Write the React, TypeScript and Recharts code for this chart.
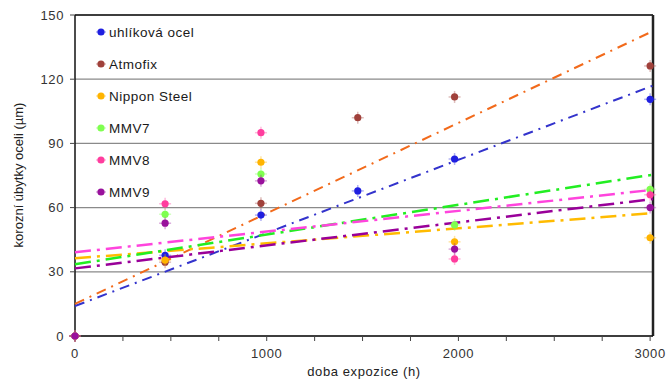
import React from "react";
import {
  ComposedChart,
  Scatter,
  XAxis,
  YAxis,
  CartesianGrid,
  ReferenceLine,
} from "recharts";

// measurement times (h)
const TIMES = [0, 470, 970, 1475, 1980, 3000];

const NAMES = ["uhlíková ocel", "Atmofix", "Nippon Steel", "MMV7", "MMV8", "MMV9"];

// corrosion loss (µm) per steel, null = not measured
const UHLIKOVA = [0, 37.7, 56.5, 67.8, 82.7, 110.6];
const ATMOFIX = [0, 34.5, 62, 102, 111.7, 126.2];
const NIPPON = [0, 35.5, 81.2, null, 44, 45.9];
const MMV7 = [0, 56.9, 75.7, null, 51.9, 68.5];
const MMV8 = [0, 61.8, 95, null, 36, 66];
const MMV9 = [0, 52.7, 72.5, null, 40.6, 60];

// linear trend lines: value at start and end of x range
const TREND_T = [0, 3015];
const TREND_UHLIKOVA = [14, 117];
const TREND_ATMOFIX = [15, 142.5];
const TREND_NIPPON = [36.3, 57.4];
const TREND_MMV7 = [33.5, 75.4];
const TREND_MMV8 = [39.1, 68.3];
const TREND_MMV9 = [31.6, 64];

const Y_TICKS = [0, 30, 60, 90, 120, 150];
const X_TICKS = [0, 250, 500, 750, 1000, 1250, 1500, 1750, 2000, 2250, 2500, 2750, 3000];

const POINT_COLORS = ["#1f1fe0", "#a0413b", "#ffb400", "#7fff50", "#ff3d9e", "#99119c"];
const TREND_COLORS = ["#3333cc", "#f26a1b", "#ffbb00", "#22ee22", "#ff44dd", "#990099"];
const TREND_DASH = ["10 6 2 6", "10 6 2 6", "16 6 3 6", "16 6 3 6", "16 6 3 6", "16 6 3 6"];
const TREND_WIDTH = [2, 2, 2.5, 2.5, 2.5, 2.5];

const VALUES = [UHLIKOVA, ATMOFIX, NIPPON, MMV7, MMV8, MMV9];
const TRENDS = [TREND_UHLIKOVA, TREND_ATMOFIX, TREND_NIPPON, TREND_MMV7, TREND_MMV8, TREND_MMV9];

const FONT = "'Liberation Sans', Arial, sans-serif";
const TEXT_STYLE = { fontSize: 13, fill: "#333", fontFamily: FONT, letterSpacing: 0.6 };

function toPoints(values: (number | null)[]) {
  return TIMES.map((t, i) => ({ t, v: values[i] })).filter((d) => d.v !== null);
}

function toTrend(values: number[]) {
  return TREND_T.map((t, i) => ({ t, v: values[i] }));
}

const PointShape = (props: any) => {
  const { cx, cy, fill } = props;
  if (cx == null || cy == null) return <g />;
  return (
    <g>
      <line x1={cx - 6} x2={cx + 6} y1={cy} y2={cy} stroke={fill} strokeOpacity={0.35} strokeWidth={1.5} />
      <line x1={cx} x2={cx} y1={cy - 6} y2={cy + 6} stroke={fill} strokeOpacity={0.35} strokeWidth={1.5} />
      <circle cx={cx} cy={cy} r={3.6} fill={fill} />
    </g>
  );
};

const NoShape = () => <g />;

// legend sits inside the plot, top-left
const LegendBox = () => (
  <div
    style={{
      position: "absolute",
      left: 95,
      top: 16,
      fontFamily: FONT,
      fontSize: 13.5,
      letterSpacing: 0.5,
      color: "#1a1a1a",
    }}
  >
    {NAMES.map((name, i) => (
      <div key={name} style={{ height: 32, display: "flex", alignItems: "center" }}>
        <svg width={12} height={10} style={{ marginRight: 2 }}>
          <line x1={1} x2={11} y1={5} y2={5} stroke={POINT_COLORS[i]} strokeOpacity={0.35} strokeWidth={1.5} />
          <circle cx={6} cy={5} r={3.6} fill={POINT_COLORS[i]} />
        </svg>
        <span>{name}</span>
      </div>
    ))}
  </div>
);

const fmtX = (v: number) => (v % 1000 === 0 ? String(v) : "");

export default function App() {
  return (
    <div style={{ position: "absolute", left: 0, top: 0, width: 667, height: 379, background: "#fff" }}>
      <ComposedChart width={667} height={379} margin={{ top: 15, right: 14, bottom: 0, left: 0 }}>
        <CartesianGrid vertical={false} stroke="#8a8a8a" strokeWidth={1.2} />
        <XAxis
          type="number"
          dataKey="t"
          domain={[0, 3015]}
          ticks={X_TICKS}
          tickFormatter={fmtX}
          interval={0}
          height={43}
          axisLine={{ stroke: "#111", strokeWidth: 1.5 }}
          tickLine={{ stroke: "#444" }}
          tickSize={5}
          tickMargin={8}
          tick={TEXT_STYLE}
          label={{
            value: "doba expozice (h)",
            position: "insideBottom",
            offset: 3,
            style: { ...TEXT_STYLE, fill: "#222" },
          }}
        />
        <YAxis
          type="number"
          dataKey="v"
          domain={[0, 150]}
          ticks={Y_TICKS}
          interval={0}
          width={75}
          axisLine={{ stroke: "#111", strokeWidth: 1.5 }}
          tickLine={{ stroke: "#444" }}
          tickSize={5}
          tickMargin={6}
          tick={TEXT_STYLE}
          label={{
            content: () => (
              <text
                x={18}
                y={175}
                transform="rotate(-90 18 175)"
                textAnchor="middle"
                dominantBaseline="central"
                style={{ fontSize: 13, fill: "#222", fontFamily: FONT }}
              >
                korozní úbytky oceli (µm)
              </text>
            ),
          }}
        />
        <ReferenceLine y={150} stroke="#111" strokeWidth={1.5} />
        <ReferenceLine x={3015} stroke="#222" strokeWidth={2.5} />
        {TRENDS.map((tr, i) => (
          <Scatter
            key={"trend" + i}
            data={toTrend(tr)}
            dataKey="v"
            shape={NoShape}
            legendType="none"
            line={{
              stroke: TREND_COLORS[i],
              strokeWidth: TREND_WIDTH[i],
              strokeDasharray: TREND_DASH[i],
            }}
            isAnimationActive={false}
          />
        ))}
        {VALUES.map((vals, i) => (
          <Scatter
            key={"pts" + i}
            name={NAMES[i]}
            data={toPoints(vals)}
            dataKey="v"
            fill={POINT_COLORS[i]}
            shape={PointShape}
            isAnimationActive={false}
          />
        ))}
      </ComposedChart>
      <LegendBox />
    </div>
  );
}
